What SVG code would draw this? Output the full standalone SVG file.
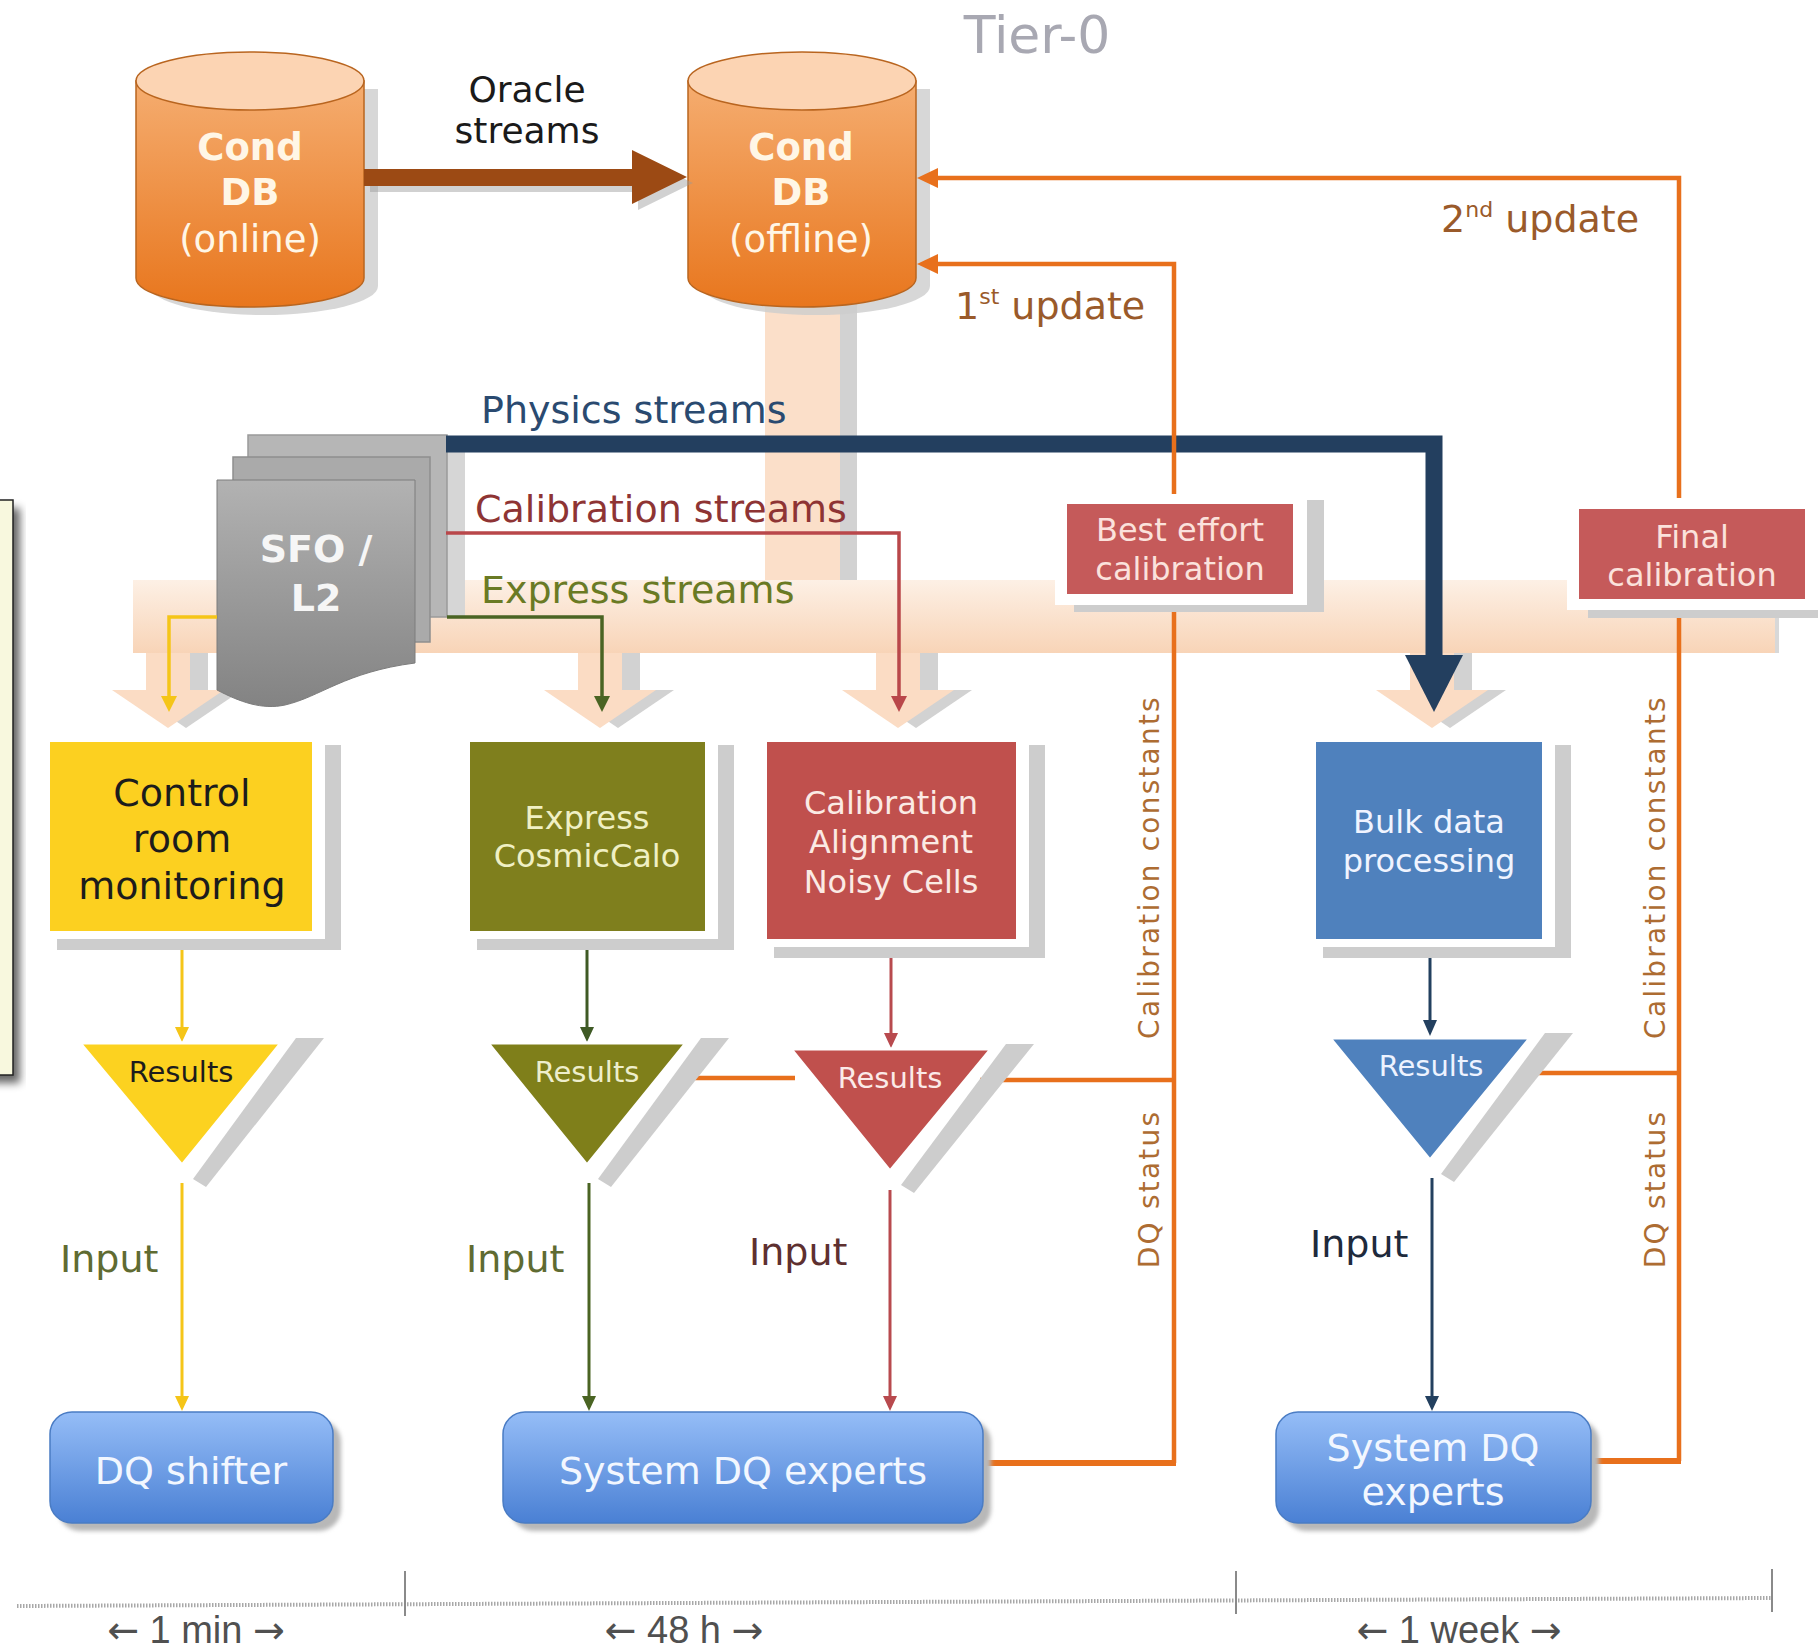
<svg xmlns="http://www.w3.org/2000/svg" width="1818" height="1649" viewBox="0 0 1818 1649">
<defs>
<linearGradient id="cyl" x1="0" y1="0" x2="0" y2="1"><stop offset="0" stop-color="#f5ad70"/><stop offset="1" stop-color="#e8761d"/></linearGradient>
<linearGradient id="band" x1="0" y1="0" x2="0" y2="1"><stop offset="0" stop-color="#fdf0e5"/><stop offset="1" stop-color="#f8d4b7"/></linearGradient>
<linearGradient id="sfo" x1="0" y1="0" x2="0" y2="1"><stop offset="0" stop-color="#b2b2b2"/><stop offset="1" stop-color="#838383"/></linearGradient>
<linearGradient id="dq" x1="0" y1="0" x2="0" y2="1"><stop offset="0" stop-color="#95bdf7"/><stop offset="1" stop-color="#4a80d4"/></linearGradient>
<filter id="blur" x="-20%" y="-20%" width="140%" height="140%"><feGaussianBlur stdDeviation="4"/></filter>
<filter id="blur2" x="-20%" y="-20%" width="140%" height="140%"><feGaussianBlur stdDeviation="2"/></filter>
<g id="peachArrow">
<rect x="-22" y="0" width="44" height="37"/>
<polygon points="-56,37 56,37 0,75"/>
</g>
</defs>
<style>
text { font-family: "DejaVu Sans", "Noto Sans", sans-serif; }
.c { text-anchor: middle; }
.cylTop { fill: #fcd4b3; stroke: #b9651f; stroke-width: 1.5; }
.cylBody { fill: url(#cyl); stroke: #b9651f; stroke-width: 1.5; }
.cylTxt { fill: #fff6e6; font-size: 37px; text-anchor: middle; }
.shadow { fill: #cdcdcd; }
.halo { fill: #ffffff; }
.box32 { font-size: 32px; text-anchor: middle; }
.res { font-size: 29px; text-anchor: middle; }
.inp { font-size: 38px; }
.orange { fill: none; stroke: #e8701c; stroke-width: 4.5; }
.orangeThick { fill: none; stroke: #e8701c; stroke-width: 6; }
.rot { font-size: 28px; letter-spacing: 2.2px; fill: #ad6c32; text-anchor: middle; }
.dqTxt { font-size: 38px; fill: #f2f7ff; text-anchor: middle; }
.dqBox { fill: url(#dq); stroke: #4a7cc4; stroke-width: 1.5; }
.time { font-family: "Liberation Sans", Arial, sans-serif; font-size: 38px; fill: #505050; text-anchor: middle; }
.arr { font-family: "DejaVu Sans", sans-serif; }
.stream { font-size: 38px; }
</style>

<rect width="1818" height="1649" fill="#ffffff"/>

<!-- left slide panel -->
<g id="panel">
<rect x="-10" y="508" width="30" height="575" fill="#000" opacity="0.6" filter="url(#blur)"/>
<rect x="-10" y="500" width="23" height="575" fill="#f8f8de" stroke="#222" stroke-width="1.5"/>
</g>

<!-- title -->
<text x="1037" y="53" class="c" font-size="52" fill="#a8a8b2">Tier-0</text>

<!-- background bands -->
<g id="bands">
<rect x="840" y="300" width="17" height="282" fill="#d2d2d2"/>
<rect x="765" y="300" width="75" height="282" fill="#fbdfc9"/>
<rect x="133" y="580" width="1646" height="73" fill="#d8d8d8"/>
<rect x="133" y="580" width="1642" height="73" fill="url(#band)"/>
<g fill="#d2d2d2">
<use href="#peachArrow" x="186" y="653"/>
<use href="#peachArrow" x="618" y="653"/>
<use href="#peachArrow" x="916" y="653"/>
<use href="#peachArrow" x="1450" y="653"/>
</g>
<g fill="#fbdcc4">
<use href="#peachArrow" x="168" y="653"/>
<use href="#peachArrow" x="600" y="653"/>
<use href="#peachArrow" x="898" y="653"/>
<use href="#peachArrow" x="1432" y="653"/>
</g>
</g>

<!-- Cond DB online -->
<g id="conddb-online">
<path d="M150,89 L150,286 A114,29 0 0 0 378,286 L378,89 Z" class="shadow" opacity="0.8"/>
<path d="M136,81 L136,278 A114,29 0 0 0 364,278 L364,81 Z" class="cylBody"/>
<ellipse cx="250" cy="81" rx="114" ry="29" class="cylTop"/>
<text x="250" y="160" class="cylTxt" font-weight="bold">Cond</text>
<text x="250" y="205" class="cylTxt" font-weight="bold">DB</text>
<text x="250" y="252" class="cylTxt">(online)</text>
</g>

<!-- Cond DB offline -->
<g id="conddb-offline">
<path d="M702,89 L702,286 A114,29 0 0 0 930,286 L930,89 Z" class="shadow" opacity="0.8"/>
<path d="M688,81 L688,278 A114,29 0 0 0 916,278 L916,81 Z" class="cylBody"/>
<ellipse cx="802" cy="81" rx="114" ry="29" class="cylTop"/>
<text x="801" y="160" class="cylTxt" font-weight="bold">Cond</text>
<text x="801" y="205" class="cylTxt" font-weight="bold">DB</text>
<text x="801" y="252" class="cylTxt">(offline)</text>
</g>

<!-- SFO / L2 -->
<g id="sfo-l2">
<rect x="447" y="446" width="18" height="172" fill="#d6d6d6"/>
<rect x="248" y="435" width="199" height="182" fill="#b6b6b6" stroke="#9a9a9a" stroke-width="1.5"/>
<rect x="233" y="457" width="197" height="185" fill="#aaaaaa" stroke="#8e8e8e" stroke-width="1.5"/>
<path d="M217,480 L415,480 L415,663 C345,672 320,697 285,705 C262,710 240,702 217,690 Z" fill="url(#sfo)" stroke="#7c7c7c" stroke-width="1"/>
<text x="316" y="562" class="c" font-size="38" font-weight="bold" fill="#f6f6f6">SFO /</text>
<text x="316" y="611" class="c" font-size="38" font-weight="bold" fill="#f6f6f6">L2</text>
</g>

<!-- connectors -->
<g id="connectors">
<!-- Oracle streams -->
<polygon points="370,175 638,175 638,156 693,183 638,210 638,192 370,192" fill="#9a9a9a" opacity="0.45"/>
<polygon points="364,169 632,169 632,150 687,177 632,204 632,186 364,186" fill="#9c4a14"/>
<!-- physics -->
<path d="M446,444 L1434,444 L1434,660" fill="none" stroke="#233f5f" stroke-width="17"/>
<polygon points="1405,655 1463,655 1434,712" fill="#233f5f"/>
<!-- calibration stream -->
<path d="M446,533 L899,533 L899,699" fill="none" stroke="#b9474a" stroke-width="3.5"/>
<polygon points="891,696 907,696 899,712" fill="#b9474a"/>
<!-- express stream -->
<path d="M447,617 L602,617 L602,699" fill="none" stroke="#4a6423" stroke-width="3.5"/>
<polygon points="594,696 610,696 602,712" fill="#4a6423"/>
<!-- control room stream -->
<path d="M217,617 L169,617 L169,699" fill="none" stroke="#f5c518" stroke-width="3.5"/>
<polygon points="161,696 177,696 169,712" fill="#f5c518"/>

<!-- box to results -->
<path d="M182,943 L182,1030" stroke="#f5c518" stroke-width="3"/>
<polygon points="175,1027 189,1027 182,1042" fill="#f5c518"/>
<path d="M587,945 L587,1030" stroke="#3f5a25" stroke-width="3"/>
<polygon points="580,1027 594,1027 587,1042" fill="#3f5a25"/>
<path d="M891,955 L891,1036" stroke="#b84a4e" stroke-width="3"/>
<polygon points="884,1033 898,1033 891,1048" fill="#b84a4e"/>
<path d="M1430,950 L1430,1022" stroke="#23405f" stroke-width="3"/>
<polygon points="1423,1020 1437,1020 1430,1036" fill="#23405f"/>

<!-- results to DQ -->
<path d="M182,1183 L182,1398" stroke="#f5c518" stroke-width="3"/>
<polygon points="175,1396 189,1396 182,1411" fill="#f5c518"/>
<path d="M589,1183 L589,1398" stroke="#4a6423" stroke-width="3"/>
<polygon points="582,1396 596,1396 589,1411" fill="#4a6423"/>
<path d="M890,1190 L890,1398" stroke="#b84a4e" stroke-width="3"/>
<polygon points="883,1396 897,1396 890,1411" fill="#b84a4e"/>
<path d="M1432,1178 L1432,1398" stroke="#23405f" stroke-width="3"/>
<polygon points="1425,1396 1439,1396 1432,1411" fill="#23405f"/>

<!-- orange feedback -->
<path d="M1679,1461 L1679,178 L932,178" class="orange"/>
<polygon points="917,178 938,168 938,188" fill="#e8701c"/>
<path d="M1174,1463 L1174,264 L932,264" class="orange"/>
<polygon points="917,264 938,254 938,274" fill="#e8701c"/>
<path d="M680,1078 L795,1078" class="orange"/>
<path d="M980,1080 L1174,1080" class="orange"/>
<path d="M1518,1073 L1679,1073" class="orange"/>
<path d="M1176,1463 L983,1463" class="orangeThick"/>
<path d="M1681,1461 L1591,1461" class="orangeThick"/>
</g>

<!-- connector labels -->
<g id="labels">
<text x="527" y="102" class="c" font-size="36" fill="#1a1a1a">Oracle</text>
<text x="527" y="143" class="c" font-size="36" fill="#1a1a1a">streams</text>
<text x="955" y="319" font-size="38" fill="#9a5a2a">1<tspan font-size="22" dy="-15">st</tspan><tspan dy="15"> update</tspan></text>
<text x="1441" y="232" font-size="38" fill="#9a5a2a">2<tspan font-size="22" dy="-15">nd</tspan><tspan dy="15"> update</tspan></text>
<text x="481" y="423" class="stream" fill="#2a4a70">Physics streams</text>
<text x="475" y="522" class="stream" fill="#8e3434">Calibration streams</text>
<text x="481" y="603" class="stream" fill="#6a7a24">Express streams</text>
<text transform="translate(1159,867) rotate(-90)" class="rot">Calibration constants</text>
<text transform="translate(1159,1189) rotate(-90)" class="rot">DQ status</text>
<text transform="translate(1665,867) rotate(-90)" class="rot">Calibration constants</text>
<text transform="translate(1665,1189) rotate(-90)" class="rot">DQ status</text>
<text x="60" y="1272" class="inp" fill="#5f6b32">Input</text>
<text x="466" y="1272" class="inp" fill="#5f6b32">Input</text>
<text x="749" y="1265" class="inp" fill="#5e3030">Input</text>
<text x="1310" y="1257" class="inp" fill="#1e2a3c">Input</text>
</g>

<!-- calibration boxes -->
<g id="best-effort-calibration">
<rect x="1074" y="500" width="250" height="112" class="shadow"/>
<rect x="1055" y="494" width="252" height="111" class="halo"/>
<rect x="1067" y="504" width="226" height="90" fill="#c55a5a"/>
<text x="1180" y="541" class="box32" fill="#fbe2dc">Best effort</text>
<text x="1180" y="580" class="box32" fill="#fbe2dc">calibration</text>
</g>
<g id="final-calibration">
<rect x="1588" y="506" width="235" height="112" class="shadow"/>
<rect x="1567" y="498" width="252" height="112" class="halo"/>
<rect x="1579" y="509" width="226" height="90" fill="#c55a5a"/>
<text x="1692" y="548" class="box32" fill="#fbe2dc">Final</text>
<text x="1692" y="586" class="box32" fill="#fbe2dc">calibration</text>
</g>

<!-- process boxes -->
<g id="control-room">
<rect x="57" y="745" width="284" height="205" class="shadow"/>
<rect x="44" y="736" width="281" height="203" class="halo"/>
<rect x="50" y="742" width="262" height="189" fill="#fcd020"/>
<text x="182" y="806" class="c" font-size="38" fill="#1c1c1c">Control</text>
<text x="182" y="852" class="c" font-size="38" fill="#1c1c1c">room</text>
<text x="182" y="899" class="c" font-size="38" fill="#1c1c1c">monitoring</text>
</g>
<g id="express">
<rect x="477" y="745" width="257" height="205" class="shadow"/>
<rect x="464" y="736" width="254" height="203" class="halo"/>
<rect x="470" y="742" width="235" height="189" fill="#7f7f1d"/>
<text x="587" y="829" class="box32" fill="#f0f0c4">Express</text>
<text x="587" y="867" class="box32" fill="#f0f0c4">CosmicCalo</text>
</g>
<g id="calibration-alignment">
<rect x="774" y="745" width="271" height="213" class="shadow"/>
<rect x="761" y="736" width="268" height="211" class="halo"/>
<rect x="767" y="742" width="249" height="197" fill="#c0504d"/>
<text x="891" y="814" class="box32" fill="#fbeae4">Calibration</text>
<text x="891" y="853" class="box32" fill="#fbeae4">Alignment</text>
<text x="891" y="893" class="box32" fill="#fbeae4">Noisy Cells</text>
</g>
<g id="bulk">
<rect x="1323" y="745" width="248" height="213" class="shadow"/>
<rect x="1310" y="736" width="245" height="211" class="halo"/>
<rect x="1316" y="742" width="226" height="197" fill="#4f81bd"/>
<text x="1429" y="833" class="box32" fill="#f0f4ff">Bulk data</text>
<text x="1429" y="872" class="box32" fill="#f0f4ff">processing</text>
</g>

<!-- results triangles -->
<g id="results-yellow">
<polygon points="296,1038 324,1038 206,1187 193,1179" class="shadow"/>
<polygon points="80,1043 281,1043 182,1165" fill="#fcd220" stroke="#fff" stroke-width="3" stroke-linejoin="round"/>
<text x="181" y="1082" class="res" fill="#1c1c1c">Results</text>
</g>
<g id="results-green">
<polygon points="701,1038 729,1038 611,1187 598,1179" class="shadow"/>
<polygon points="488,1043 686,1043 587,1165" fill="#7f7f1a" stroke="#fff" stroke-width="3" stroke-linejoin="round"/>
<text x="587" y="1082" class="res" fill="#eeeecc">Results</text>
</g>
<g id="results-red">
<polygon points="1006,1044 1034,1044 914,1193 901,1185" class="shadow"/>
<polygon points="791,1049 991,1049 890,1171" fill="#c0504d" stroke="#fff" stroke-width="3" stroke-linejoin="round"/>
<text x="890" y="1088" class="res" fill="#fbeae8">Results</text>
</g>
<g id="results-blue">
<polygon points="1545,1033 1573,1033 1454,1182 1441,1174" class="shadow"/>
<polygon points="1330,1038 1530,1038 1430,1160" fill="#4f81bd" stroke="#fff" stroke-width="3" stroke-linejoin="round"/>
<text x="1431" y="1076" class="res" fill="#eef3ff">Results</text>
</g>

<!-- DQ boxes -->
<g id="dq-shifter">
<rect x="58" y="1420" width="283" height="111" rx="22" fill="#b8b8b8" filter="url(#blur2)"/>
<rect x="50" y="1412" width="283" height="111" rx="22" class="dqBox"/>
<text x="191" y="1484" class="dqTxt">DQ shifter</text>
</g>
<g id="system-dq-experts-48h">
<rect x="511" y="1420" width="480" height="111" rx="22" fill="#b8b8b8" filter="url(#blur2)"/>
<rect x="503" y="1412" width="480" height="111" rx="22" class="dqBox"/>
<text x="743" y="1484" class="dqTxt">System DQ experts</text>
</g>
<g id="system-dq-experts-week">
<rect x="1284" y="1420" width="315" height="111" rx="22" fill="#b8b8b8" filter="url(#blur2)"/>
<rect x="1276" y="1412" width="315" height="111" rx="22" class="dqBox"/>
<text x="1433" y="1461" class="dqTxt">System DQ</text>
<text x="1433" y="1505" class="dqTxt">experts</text>
</g>

<!-- timeline -->
<g id="timeline">
<path d="M17,1606 L1772,1598" stroke="#a8a8a8" stroke-width="4" stroke-dasharray="1.5 1.5"/>
<path d="M405,1571 L405,1616 M1236,1571 L1236,1614 M1772,1569 L1772,1612" stroke="#8a8a8a" stroke-width="2"/>
<text x="196" y="1643" class="time"><tspan class="arr">←</tspan> 1 min <tspan class="arr">→</tspan></text>
<text x="684" y="1643" class="time"><tspan class="arr">←</tspan> 48 h <tspan class="arr">→</tspan></text>
<text x="1459" y="1643" class="time"><tspan class="arr">←</tspan> 1 week <tspan class="arr">→</tspan></text>
</g>
</svg>
